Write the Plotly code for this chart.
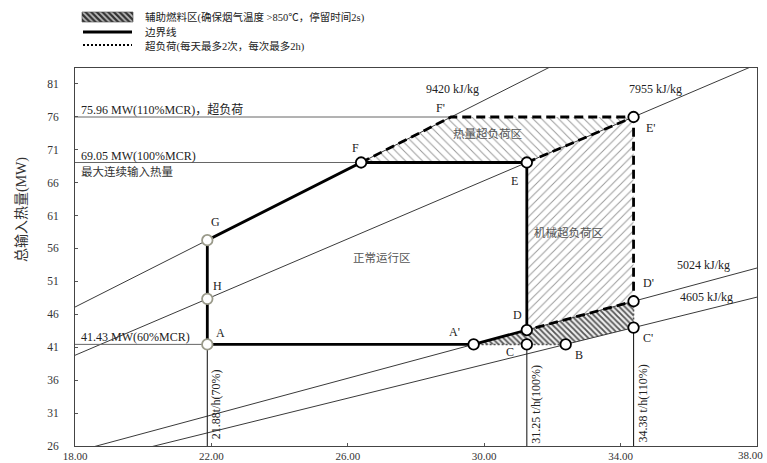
import plotly.graph_objects as go

# ---------------- data ----------------
lhv_values = [9420, 7955, 5024, 4605]                      # kJ/kg
lhv_labels = ["9420 kJ/kg", "7955 kJ/kg", "5024 kJ/kg", "4605 kJ/kg"]
lhv_label_x = [29.06, 35.01, 36.42, 36.53]
lhv_label_y = [80.24, 80.24, 53.42, 48.58]

flow_values = [21.88, 31.25, 34.38]                        # t/h
flow_labels = ["21.88t/h(70%)", "31.25 t/h(100%)", "34.38 t/h(110%)"]
flow_line_top = [41.43, 41.43, 43.98]

load_values = [41.43, 69.05, 75.96]                        # MW
load_line_end = [21.88, 26.39, 29.03]
load_labels = ["41.43 MW(60%MCR)", "69.05 MW(100%MCR)", "75.96 MW(110%MCR)，超负荷"]

point_names = ["A", "H", "G", "F", "F'", "E", "E'", "D", "D'", "A'", "B", "C", "C'"]
point_x = [21.88, 21.88, 21.88, 26.39, 29.03, 31.25, 34.38, 31.25, 34.38, 29.69, 32.39, 31.25, 34.38]
point_y = [41.43, 48.35, 57.25, 69.05, 75.96, 69.05, 75.96, 43.61, 47.98, 41.43, 41.43, 41.43, 43.98]

aux_zone = ["A'", "D", "D'", "C'", "B"]
thermal_zone = ["F", "F'", "E'", "E"]
mech_zone = ["E", "E'", "D'", "D"]
boundary_solid = ["A", "H", "G", "F", "E", "D", "A'", "A"]
boundary_dash = [["F", "F'", "E'", "D'", "D"], ["E", "E'"]]
overload_dotted = [["A'", "B"], ["C'", "D'"]]
marked_points = ["A", "H", "G", "F", "E", "E'", "D", "D'", "A'", "B", "C", "C'"]

region_labels = ["正常运行区", "机械超负荷区", "热量超负荷区"]
region_x = [27.0, 32.46, 30.11]
region_y = [54.6, 58.4, 73.4]

x_ticks = [18, 22, 26, 30, 34, 38]
y_ticks = [26, 31, 36, 41, 46, 51, 56, 61, 66, 71, 76, 81]

legend_texts = ["辅助燃料区(确保烟气温度 >850℃，停留时间2s)", "边界线", "超负荷(每天最多2次，每次最多2h)"]

# ---------------- helpers ----------------
pts = {n: (x, y) for n, x, y in zip(point_names, point_x, point_y)}


def xs(names):
    return [pts[n][0] for n in names]


def ys(names):
    return [pts[n][1] for n in names]


FONT = "Liberation Serif, Noto Sans CJK SC, serif"
W, H = 767, 463
PL, PR, PT, PB = 75, 757, 68, 446

fig = go.Figure()

# hatched zones
fig.add_trace(go.Scatter(x=xs(thermal_zone + thermal_zone[:1]), y=ys(thermal_zone + thermal_zone[:1]),
                         mode="lines", fill="toself", line=dict(width=0),
                         fillpattern=dict(shape="\\", size=6, solidity=0.16, fgcolor="#9a9a9a", bgcolor="white"),
                         showlegend=False, hoverinfo="skip"))
fig.add_trace(go.Scatter(x=xs(mech_zone + mech_zone[:1]), y=ys(mech_zone + mech_zone[:1]),
                         mode="lines", fill="toself", line=dict(width=0),
                         fillpattern=dict(shape="/", size=6, solidity=0.16, fgcolor="#9a9a9a", bgcolor="white"),
                         showlegend=False, hoverinfo="skip"))
fig.add_trace(go.Scatter(x=xs(aux_zone + aux_zone[:1]), y=ys(aux_zone + aux_zone[:1]),
                         mode="lines", fill="toself", line=dict(width=0),
                         fillpattern=dict(shape="\\", size=4, solidity=0.45, fgcolor="#555555", bgcolor="#eeeeee"),
                         showlegend=False, hoverinfo="skip"))

# LHV lines through origin: Q[MW] = m[t/h] * LHV / 3600
for v in lhv_values:
    fig.add_trace(go.Scatter(x=[0, 40], y=[0, 40 * v / 3600], mode="lines",
                             line=dict(color="#3a3a3a", width=1), showlegend=False, hoverinfo="skip"))

# horizontal load reference lines
for lv, xe in zip(load_values, load_line_end):
    fig.add_trace(go.Scatter(x=[18, xe], y=[lv, lv], mode="lines",
                             line=dict(color="#666666", width=1), showlegend=False, hoverinfo="skip"))

# vertical flow reference lines
for fv, yt in zip(flow_values, flow_line_top):
    fig.add_trace(go.Scatter(x=[fv, fv], y=[26, yt], mode="lines",
                             line=dict(color="#222222", width=1.1), showlegend=False, hoverinfo="skip"))

# dotted overload lines
for seg in overload_dotted:
    fig.add_trace(go.Scatter(x=xs(seg), y=ys(seg), mode="lines",
                             line=dict(color="#555555", width=1.5, dash="2px,2px"), showlegend=False,
                             hoverinfo="skip"))

# boundary lines
fig.add_trace(go.Scatter(x=xs(boundary_solid), y=ys(boundary_solid), mode="lines",
                         line=dict(color="black", width=2.8), showlegend=False, hoverinfo="skip"))
for seg in boundary_dash:
    fig.add_trace(go.Scatter(x=xs(seg), y=ys(seg), mode="lines",
                             line=dict(color="black", width=2.8, dash="9px,5px"), showlegend=False,
                             hoverinfo="skip"))

# markers
mcol = ["#9a9a8a" if n in ("A", "H", "G") else "black" for n in marked_points]
fig.add_trace(go.Scatter(x=xs(marked_points), y=ys(marked_points), mode="markers",
                         marker=dict(symbol="circle", size=10.5, color="white",
                                     line=dict(color=mcol, width=1.8)),
                         showlegend=False, hoverinfo="skip"))

# legend key (drawn on an overlay pixel-space axis)
fig.add_trace(go.Scatter(x=[82, 133, 133, 82, 82], y=[12, 12, 22, 22, 12], xaxis="x2", yaxis="y2",
                         mode="lines", fill="toself", line=dict(color="#444444", width=0.6),
                         fillpattern=dict(shape="\\", size=4, solidity=0.55, fgcolor="#333333", bgcolor="#bdbdbd"),
                         showlegend=False, hoverinfo="skip"))

ann = []
# point letters
label_off = {"A": (13, 11), "H": (10, 13), "G": (8, 18), "F": (-6, 15), "F'": (-11, 9), "E": (-12, -18),
             "E'": (17, -11), "D": (-9, 15), "D'": (15, 18), "A'": (-19, 12), "C": (-17, -8),
             "B": (13, -11), "C'": (14, -10)}
for n in point_names:
    dx, dy = label_off[n]
    ann.append(dict(x=pts[n][0], y=pts[n][1], text=n, showarrow=False, xshift=dx, yshift=dy,
                    font=dict(family=FONT, size=12, color="#222")))
# LHV labels
for t, lx, ly in zip(lhv_labels, lhv_label_x, lhv_label_y):
    ann.append(dict(x=lx, y=ly, text=t, showarrow=False, font=dict(family=FONT, size=12, color="#222")))
# load labels
for t, lv in zip(load_labels, load_values):
    ann.append(dict(x=18, y=lv, text=t, showarrow=False, xanchor="left", yanchor="bottom", xshift=4, yshift=-2,
                    font=dict(family=FONT, size=12, color="#222")))
ann.append(dict(x=18, y=load_values[1], text="最大连续输入热量", showarrow=False, xanchor="left", yanchor="top",
                xshift=4, yshift=0, font=dict(family=FONT, size=11.5, color="#333")))
# flow labels
for t, fv in zip(flow_labels, flow_values):
    ann.append(dict(x=fv, y=32.4, text=t, showarrow=False, textangle=-90, xshift=9,
                    font=dict(family=FONT, size=12, color="#222")))
# region labels
for t, rx, ry in zip(region_labels, region_x, region_y):
    ann.append(dict(x=rx, y=ry, text=t, showarrow=False, font=dict(family=FONT, size=11.5, color="#555")))
# y axis title
ann.append(dict(x=22, y=210, xref="x2", yref="y2", text="总输入热量(MW)", showarrow=False, textangle=-90,
                font=dict(family=FONT, size=14, color="#333")))
# legend texts
for t, ly in zip(legend_texts, [17, 32, 46]):
    ann.append(dict(x=143, y=ly, xref="x2", yref="y2", text=t, showarrow=False, xanchor="left",
                    font=dict(family=FONT, size=10.5, color="#222")))
# last x tick label kept inside the figure edge
ann.append(dict(x=x_ticks[-1], y=0, xref="x", yref="paper", text=f"{x_ticks[-1]:.2f}", showarrow=False,
                xanchor="right", yanchor="bottom", xshift=8,
                font=dict(family=FONT, size=11, color="#333")))

shapes = [
    dict(type="line", xref="x2", yref="y2", x0=83, x1=132, y0=32, y1=32, line=dict(color="black", width=3)),
    dict(type="line", xref="x2", yref="y2", x0=83, x1=132, y0=45, y1=45,
         line=dict(color="black", width=2, dash="2px,2px")),
]

fig.update_layout(
    template="none",
    width=W, height=H,
    margin=dict(l=0, r=0, t=0, b=0, pad=0),
    paper_bgcolor="white", plot_bgcolor="rgba(0,0,0,0)",
    showlegend=False,
    annotations=ann, shapes=shapes,
    font=dict(family=FONT, color="#333"),
    xaxis=dict(domain=[PL / W, PR / W], range=[18, 38], tickvals=x_ticks,
               ticktext=[f"{v:.2f}" for v in x_ticks[:-1]] + [""], ticks="inside", ticklen=3, tickcolor="#555",
               showline=True, linecolor="#444", linewidth=1, mirror=True, showgrid=False, zeroline=False,
               automargin=False, ticklabelstandoff=0,
               tickfont=dict(family=FONT, size=11, color="#333"), anchor="y"),
    yaxis=dict(domain=[(H - PB) / H, (H - PT) / H], range=[26, 83.4], tickvals=y_ticks,
               ticktext=[str(v) for v in y_ticks], ticks="inside", ticklen=3, tickcolor="#555",
               showline=True, linecolor="#444", linewidth=1, mirror=True, showgrid=False, zeroline=False,
               automargin=False, ticklabelstandoff=13, tickfont=dict(family=FONT, size=11.5, color="#333"),
               anchor="x"),
    xaxis2=dict(domain=[0, 1], range=[0, W], visible=False, anchor="y2", fixedrange=True),
    yaxis2=dict(domain=[0, 1], range=[H, 0], visible=False, anchor="x2", fixedrange=True),
)

fig.write_html("out.html")
